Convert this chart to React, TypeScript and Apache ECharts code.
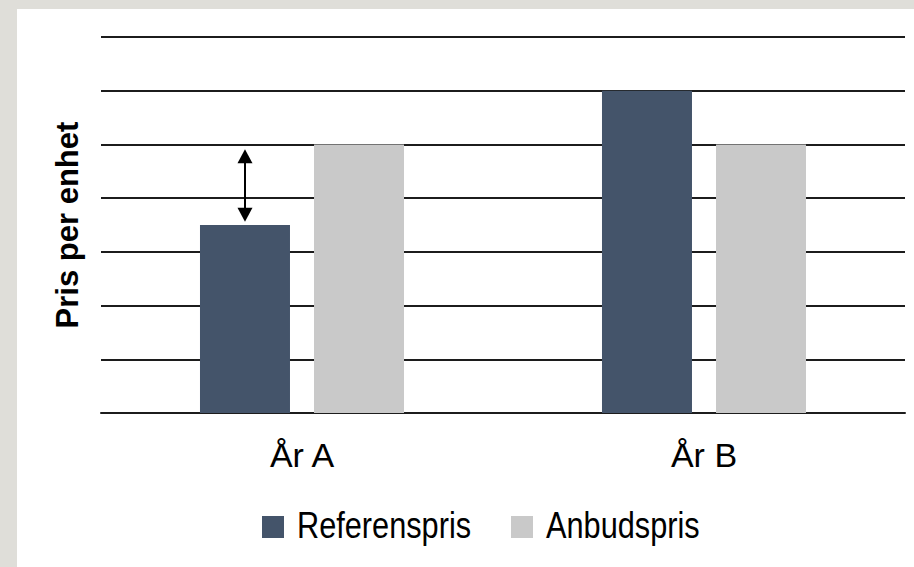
import React, { useEffect, useRef } from "react";
import * as echarts from "echarts";

const categories = ["År A", "År B"];
const seriesNames = ["Referenspris", "Anbudspris"];
const seriesColors = ["#44546a", "#c9c9c9"];
const referenspris = [3.5, 6];
const anbudspris = [5, 5];
const yMin = 0;
const yMax = 7;
const yInterval = 1;
// double-headed arrow annotation on År A (value range between arrow head centres)
const arrowCategory = "År A";
const arrowFrom = 4.78;
const arrowTo = 3.69;

export default function App() {
  const ref = useRef<HTMLDivElement>(null);
  useEffect(() => {
    if (!ref.current) return;
    const chart = echarts.init(ref.current, null, { renderer: "svg" });
    const legendX = [245, 494];
    const legendGraphics = seriesNames.map((name, i) => ({
      type: "group",
      x: legendX[i],
      y: 505,
      children: [
        {
          type: "rect",
          shape: { x: 0, y: 2, width: 22, height: 22 },
          style: { fill: seriesColors[i] },
        },
        {
          type: "text",
          x: 35,
          y: 11,
          scaleX: 0.83,
          style: {
            text: name,
            fill: "#000",
            fontSize: 37,
            fontFamily: "Liberation Sans, Arial, sans-serif",
            verticalAlign: "middle",
            align: "left",
          },
        },
      ],
    }));
    chart.setOption({
      animation: false,
      backgroundColor: "#ffffff",
      grid: { left: 84, right: 9, top: 28, bottom: 154 },
      xAxis: {
        type: "category",
        data: categories,
        axisTick: { show: false },
        axisLine: { show: true, lineStyle: { color: "#1c1c1c", width: 2 } },
        axisLabel: {
          color: "#000",
          fontSize: 34,
          fontFamily: "Liberation Sans, Arial, sans-serif",
          margin: 25,
        },
      },
      yAxis: {
        type: "value",
        min: yMin,
        max: yMax,
        interval: yInterval,
        name: "Pris per enhet",
        nameLocation: "middle",
        nameGap: 18,
        nameTextStyle: {
          color: "#000",
          fontSize: 31,
          fontWeight: "bold",
          fontFamily: "Liberation Sans, Arial, sans-serif",
        },
        axisLabel: { show: false },
        axisTick: { show: false },
        axisLine: { show: false },
        splitLine: { show: true, lineStyle: { color: "#1c1c1c", width: 2 } },
      },
      graphic: legendGraphics,
      series: [
        {
          name: seriesNames[0],
          type: "bar",
          data: referenspris,
          barWidth: 90,
          barGap: "26.7%",
          itemStyle: { color: seriesColors[0] },
          markLine: {
            silent: true,
            symbol: ["triangle", "triangle"],
            symbolSize: [15, 14],
            label: { show: false },
            lineStyle: { color: "#000", width: 2, type: "solid" },
            data: [
              [
                { coord: [arrowCategory, arrowFrom] },
                { coord: [arrowCategory, arrowTo] },
              ],
            ],
          },
        },
        {
          name: seriesNames[1],
          type: "bar",
          data: anbudspris,
          barWidth: 90,
          itemStyle: { color: seriesColors[1] },
        },
      ],
    });
    return () => chart.dispose();
  }, []);
  return (
    <div
      style={{
        position: "fixed",
        left: 0,
        top: 0,
        width: 914,
        height: 567,
        background: "#dfded9",
      }}
    >
      <div
        ref={ref}
        style={{ position: "absolute", left: 17, top: 9, width: 897, height: 558 }}
      />
    </div>
  );
}
